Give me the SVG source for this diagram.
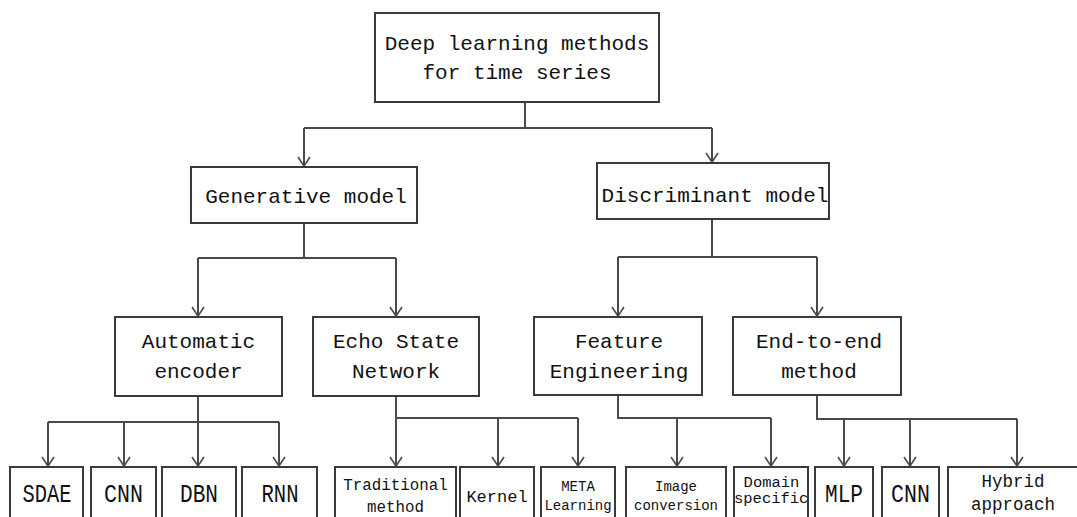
<svg xmlns="http://www.w3.org/2000/svg" width="1077" height="517" viewBox="0 0 1077 517">
<defs>
<style>
.box{fill:#fff;stroke:#3a3a3a;stroke-width:2}
.ln{fill:none;stroke:#4a4a4a;stroke-width:2}
.ar{fill:none;stroke:#4a4a4a;stroke-width:2;marker-end:url(#v)}
text{font-family:"Liberation Mono","DejaVu Sans Mono",monospace;fill:#111;text-anchor:middle}
.t21{font-size:21px}
.t20{font-size:25px}
</style>
<marker id="v" markerUnits="userSpaceOnUse" markerWidth="20" markerHeight="20" refX="0" refY="0" orient="auto" overflow="visible">
<path d="M-9,-6 L0,0 L-9,6" fill="none" stroke="#4a4a4a" stroke-width="1.6"/>
</marker>
</defs>
<rect width="1077" height="517" fill="#fff"/>

<g id="connectors">
<path class="ln" d="M525,102 V128 M304,128 H712"/>
<path class="ar" d="M304,128 V166"/>
<path class="ar" d="M712,128 V162"/>
<path class="ln" d="M304,223 V258 M198,258 H396"/>
<path class="ar" d="M198,258 V316"/>
<path class="ar" d="M396,258 V316"/>
<path class="ln" d="M712,219 V257 M618,257 H817"/>
<path class="ar" d="M618,257 V316"/>
<path class="ar" d="M817,257 V316"/>
<path class="ln" d="M198,396 V422 M48,422 H279"/>
<path class="ar" d="M48,422 V466"/>
<path class="ar" d="M124,422 V466"/>
<path class="ar" d="M198,422 V466"/>
<path class="ar" d="M279,422 V466"/>
<path class="ln" d="M396,396 V418 H578"/>
<path class="ar" d="M396,418 V466"/>
<path class="ar" d="M498,418 V466"/>
<path class="ar" d="M578,418 V466"/>
<path class="ln" d="M618,395 V418 H771"/>
<path class="ar" d="M677,418 V466"/>
<path class="ar" d="M771,418 V466"/>
<path class="ln" d="M817,395 V419 H1017"/>
<path class="ar" d="M844,419 V466"/>
<path class="ar" d="M910,419 V466"/>
<path class="ar" d="M1017,419 V466"/>
</g>

<g id="root">
<rect class="box" x="375" y="13" width="284" height="89"/>
<text class="t21" x="517" y="50">Deep learning methods</text>
<text class="t21" x="517" y="79">for time series</text>
</g>
<g id="generative">
<rect class="box" x="191" y="167" width="226" height="56"/>
<text class="t21" x="306" y="203">Generative model</text>
</g>
<g id="discriminant">
<rect class="box" x="597" y="163" width="232" height="56"/>
<text class="t21" x="715" y="202">Discriminant model</text>
</g>
<g id="autoencoder">
<rect class="box" x="115" y="317" width="167" height="79"/>
<text class="t21" x="198.5" y="348">Automatic</text>
<text class="t21" x="198.5" y="378">encoder</text>
</g>
<g id="echo">
<rect class="box" x="313" y="317" width="166" height="79"/>
<text class="t21" x="396" y="348">Echo State</text>
<text class="t21" x="396" y="378">Network</text>
</g>
<g id="feature">
<rect class="box" x="534" y="317" width="168" height="78"/>
<text class="t21" x="619" y="348">Feature</text>
<text class="t21" x="619" y="378">Engineering</text>
</g>
<g id="endtoend">
<rect class="box" x="733" y="317" width="168" height="78"/>
<text class="t21" x="819" y="348">End-to-end</text>
<text class="t21" x="819" y="378">method</text>
</g>

<g id="sdae">
<rect class="box" x="10" y="467" width="73" height="70"/>
<text class="t20" x="47" y="502" textLength="49" lengthAdjust="spacingAndGlyphs">SDAE</text>
</g>
<g id="cnn1">
<rect class="box" x="91" y="467" width="65" height="70"/>
<text class="t20" x="123.5" y="502" textLength="39" lengthAdjust="spacingAndGlyphs">CNN</text>
</g>
<g id="dbn">
<rect class="box" x="162" y="467" width="74" height="70"/>
<text class="t20" x="199" y="502" textLength="38" lengthAdjust="spacingAndGlyphs">DBN</text>
</g>
<g id="rnn">
<rect class="box" x="242" y="467" width="75" height="70"/>
<text class="t20" x="280" y="502" textLength="37" lengthAdjust="spacingAndGlyphs">RNN</text>
</g>
<g id="traditional">
<rect class="box" x="335" y="467" width="121" height="70"/>
<text x="395.5" y="490" style="font-size:15.8px">Traditional</text>
<text x="395.5" y="512" style="font-size:15.8px">method</text>
</g>
<g id="kernel">
<rect class="box" x="460" y="467" width="74" height="70"/>
<text x="497" y="502" style="font-size:17px">Kernel</text>
</g>
<g id="meta">
<rect class="box" x="541" y="467" width="74" height="70"/>
<text x="578" y="491" style="font-size:14px">META</text>
<text x="578" y="510" style="font-size:14px">Learning</text>
</g>
<g id="image">
<rect class="box" x="626" y="467" width="100" height="70"/>
<text x="676" y="491" style="font-size:14px">Image</text>
<text x="676" y="510" style="font-size:14px">conversion</text>
</g>
<g id="domain">
<rect class="box" x="734" y="467" width="74" height="70"/>
<text x="771.5" y="487" style="font-size:15.5px">Domain</text>
<text x="734" y="503" style="font-size:15.5px;text-anchor:start">specific</text>
</g>
<g id="mlp">
<rect class="box" x="815" y="467" width="58" height="70"/>
<text class="t20" x="844" y="502" textLength="38" lengthAdjust="spacingAndGlyphs">MLP</text>
</g>
<g id="cnn2">
<rect class="box" x="882" y="467" width="57" height="70"/>
<text class="t20" x="910.5" y="502" textLength="39" lengthAdjust="spacingAndGlyphs">CNN</text>
</g>
<g id="hybrid">
<rect class="box" x="948" y="467" width="140" height="70"/>
<text x="1013" y="487" style="font-size:17.5px">Hybrid</text>
<text x="1013" y="510" style="font-size:17.5px">approach</text>
</g>
</svg>
